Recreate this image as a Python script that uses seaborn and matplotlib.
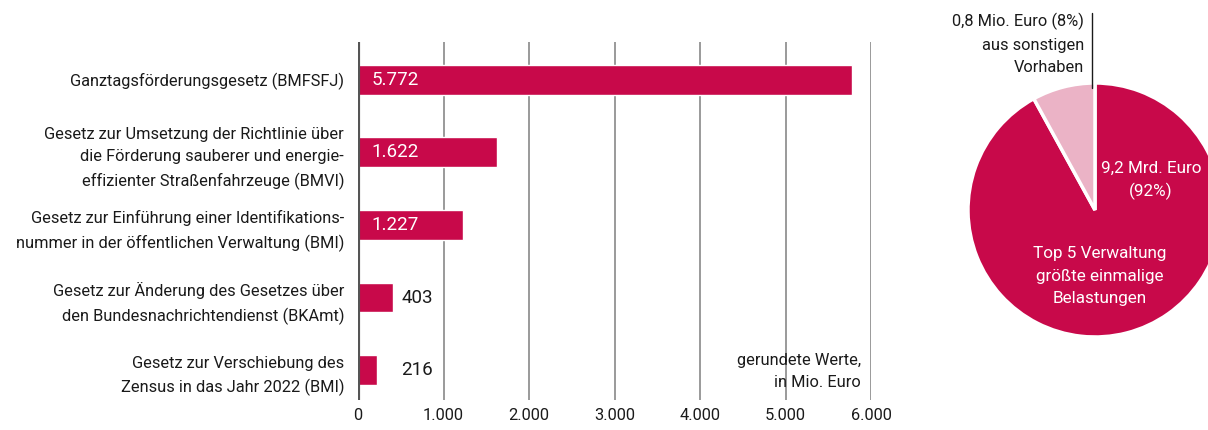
import matplotlib
matplotlib.use("Agg")
import matplotlib.pyplot as plt
import seaborn as sns
import pandas as pd

# Data (Mio. Euro)
gesetze = [
    "Ganztagsförderungsgesetz (BMFSFJ)",
    "Gesetz zur Umsetzung der Richtlinie über\ndie Förderung sauberer und energie-\neffizienter Straßenfahrzeuge (BMVI)",
    "Gesetz zur Einführung einer Identifikations-\nnummer in der öffentlichen Verwaltung (BMI)",
    "Gesetz zur Änderung des Gesetzes über\nden Bundesnachrichtendienst (BKAmt)",
    "Gesetz zur Verschiebung des\nZensus in das Jahr 2022 (BMI)",
]
werte = [5772, 1622, 1227, 403, 216]
x_ticks = [0, 1000, 2000, 3000, 4000, 5000, 6000]

anteile = [92, 8]
anteil_labels = ["Top 5 Verwaltung\ngrößte einmalige\nBelastungen", "sonstige Vorhaben"]

RED = "#C8094A"
PINK = "#EBB3C6"
INK = "#1a1a1a"

sns.set_theme(style="white")
plt.rcParams["font.family"] = ["Roboto", "DejaVu Sans"]

FS = 11.8

def fmt(v):
    return f"{v:,}".replace(",", ".")

df = pd.DataFrame({"Gesetz": gesetze, "Wert": werte})

fig = plt.figure(figsize=(12.08, 4.30), dpi=100)
ax = fig.add_axes([0.2964, 0.0698, 0.4247, 0.8326])

for t in x_ticks:
    ax.axvline(t, color="#9a9a9a", lw=1.4, zorder=0)
ax.axvline(0, color="#555555", lw=3, zorder=3)

sns.barplot(data=df, x="Wert", y="Gesetz", orient="h", color=RED,
            width=0.41, saturation=1, ax=ax, zorder=2)

ax.set_xlim(0, 6000)
ax.set_ylim(4.41, -0.52)
ax.set_xticks(x_ticks)
ax.set_xticklabels([fmt(t) for t in x_ticks], fontsize=FS, color=INK)
ax.tick_params(axis="x", length=0, pad=6)
ax.tick_params(axis="y", length=0, pad=10)
for lab in ax.get_yticklabels():
    lab.set_fontsize(FS)
    lab.set_linespacing(1.6)
    lab.set_color(INK)
ax.set_xlabel("")
ax.set_ylabel("")
for s in ax.spines.values():
    s.set_visible(False)

for i, v in enumerate(werte):
    if v > 1000:
        ax.text(160, i, fmt(v), color="white", fontsize=13.5, va="center", ha="left", zorder=4)
    else:
        ax.text(690, i, fmt(v), color=INK, fontsize=13.5, va="center", ha="center", zorder=4)

ax.text(5880, 4.02, "gerundete Werte,\nin Mio. Euro", ha="right", va="center",
        fontsize=FS, linespacing=1.6, color=INK)

# Pie: the 92 % share runs clockwise from 12 o'clock
pax = fig.add_axes([0.8013, 0.2163, 0.2103, 0.5907])
pax.pie(anteile, colors=[RED, PINK], startangle=90, counterclock=False,
        wedgeprops=dict(edgecolor="white", linewidth=2.5))
pax.set_xlim(-1, 1)
pax.set_ylim(-1, 1)
pax.set_aspect("equal")
pax.axis("off")
pax.text(0.44, 0.23, "9,2 Mrd. Euro\n(92%)", color="white", fontsize=12.3,
         ha="center", va="center", linespacing=1.5)
pax.text(0.04, -0.52, anteil_labels[0], color="white", fontsize=12.3,
         ha="center", va="center", linespacing=1.6)

fig.add_artist(plt.Line2D([1092 / 1208, 1092 / 1208], [1 - 13 / 430, 1 - 88 / 430],
                          color=INK, lw=1))
fig.text(1084 / 1208, 1 - 44 / 430, "0,8 Mio. Euro (8%)\naus sonstigen\nVorhaben",
         ha="right", va="center", fontsize=FS, linespacing=1.6, color=INK)

fig.savefig("out.png", dpi=100)
